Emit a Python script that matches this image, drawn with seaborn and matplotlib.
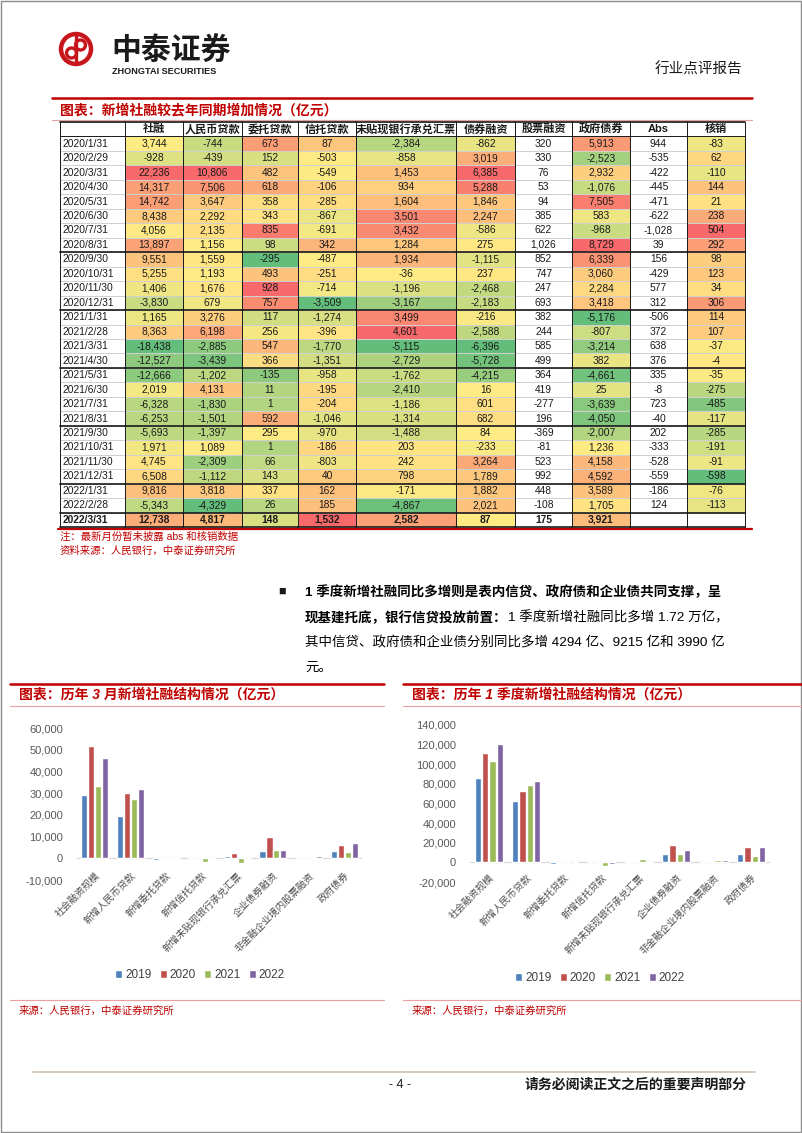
import numpy as np
import pandas as pd
import matplotlib
matplotlib.use('Agg')
import matplotlib.pyplot as plt
import seaborn as sns
from matplotlib.colors import LinearSegmentedColormap
from matplotlib.patches import Circle, Rectangle
from matplotlib.ticker import FuncFormatter

# ---------------- données du tableau (亿元) ----------------
dates = ['2020/1/31', '2020/2/29', '2020/3/31', '2020/4/30', '2020/5/31', '2020/6/30',
         '2020/7/31', '2020/8/31', '2020/9/30', '2020/10/31', '2020/11/30', '2020/12/31',
         '2021/1/31', '2021/2/28', '2021/3/31', '2021/4/30', '2021/5/31', '2021/6/30',
         '2021/7/31', '2021/8/31', '2021/9/30', '2021/10/31', '2021/11/30', '2021/12/31',
         '2022/1/31', '2022/2/28', '2022/3/31']
table_headers = ['社融', '人民币贷款', '委托贷款', '信托贷款', '未贴现银行承兑汇票',
                 '债券融资', '股票融资', '政府债券', 'Abs', '核销']
shehui = [3744, -928, 22236, 14317, 14742, 8438, 4056, 13897, 9551, 5255, 1406, -3830, 1165,
          8363, -18438, -12527, -12666, 2019, -6328, -6253, -5693, 1971, 4745, 6508, 9816, -5343, 12738]
rmb_loans = [-744, -439, 10806, 7506, 3647, 2292, 2135, 1156, 1559, 1193, 1676, 679, 3276,
             6198, -2885, -3439, -1202, 4131, -1830, -1501, -1397, 1089, -2309, -1112, 3818, -4329, 4817]
entrusted = [673, 152, 482, 618, 358, 343, 835, 98, -295, 493, 928, 757, 117, 256, 547, 366,
             -135, 11, 1, 592, 295, 1, 66, 143, 337, 26, 148]
trust = [87, -503, -549, -106, -285, -867, -691, 342, -487, -251, -714, -3509, -1274, -396,
         -1770, -1351, -958, -195, -204, -1046, -970, -186, -803, 40, 162, 185, 1532]
bills = [-2384, -858, 1453, 934, 1604, 3501, 3432, 1284, 1934, -36, -1196, -3167, 3499, 4601,
         -5115, -2729, -1762, -2410, -1186, -1314, -1488, 203, 242, 798, -171, -4867, 2582]
bonds = [-862, 3019, 6385, 5288, 1846, 2247, -586, 275, -1115, 237, -2468, -2183, -216, -2588,
         -6396, -5728, -4215, 16, 601, 682, 84, -233, 3264, 1789, 1882, 2021, 87]
equity = [320, 330, 76, 53, 94, 385, 622, 1026, 852, 747, 247, 693, 382, 244, 585, 499, 364,
          419, -277, 196, -369, -81, 523, 992, 448, -108, 175]
gov_bonds = [5913, -2523, 2932, -1076, 7505, 583, -968, 8729, 6339, 3060, 2284, 3418, -5176,
             -807, -3214, 382, -4661, 25, -3639, -4050, -2007, 1236, 4158, 4592, 3589, 1705, 3921]
abs_vals = [944, -535, -422, -445, -471, -622, -1028, 39, 156, -429, 577, 312, -506, 372, 638,
            376, 335, -8, 723, -40, 202, -333, -528, -559, -186, 124, None]
writeoff = [-83, 62, -110, 144, 21, 238, 504, 292, 98, 123, 34, 306, 114, 107, -37, -4, -35,
            -275, -485, -117, -285, -191, -91, -598, -76, -113, None]
table_cols = [shehui, rmb_loans, entrusted, trust, bills, bonds, equity, gov_bonds, abs_vals, writeoff]
colored = [True, True, True, True, True, True, False, True, False, True]

# ---------------- données des graphiques ----------------
categories = ['社会融资规模', '新增人民币贷款', '新增委托贷款', '新增信托贷款',
              '新增未贴现银行承兑汇票', '企业债券融资', '非金融企业境内股票融资', '政府债券']
years = ['2019', '2020', '2021', '2022']
mar_2019 = [29300, 19400, -600, 200, 1200, 3360, 200, 3200]
mar_2020 = [51600, 30100, -400, -100, 2600, 9770, 300, 6100]
mar_2021 = [33400, 27200, 100, -1700, -2300, 3660, 600, 2900]
mar_2022 = [46300, 32100, -100, -100, 300, 3800, 900, 6900]
q1_2019 = [86200, 63000, -2000, 300, 1700, 8900, 300, 8900]
q1_2020 = [111000, 72500, -800, 100, 200, 17700, 1000, 15700]
q1_2021 = [102900, 79000, 200, -3400, 3000, 8900, 2000, 6500]
q1_2022 = [120200, 83400, 300, -1500, -300, 12900, 2700, 16000]
year_colors = ['#4F81BD', '#C0504D', '#9BBB59', '#8064A2']

RED = '#C00000'
W, H = 802, 1133

sns.set_theme(style='white')
plt.rcParams['font.family'] = ['Liberation Sans', 'Noto Sans CJK SC', 'DejaVu Sans']
plt.rcParams['axes.unicode_minus'] = False

fig = plt.figure(figsize=(W / 100, H / 100), dpi=100)


def rect(x0, y0, w, h):
    """pixels (origine en haut à gauche) -> coordonnées figure"""
    return [x0 / W, 1 - (y0 + h) / H, w / W, h / H]


# fond de page en coordonnées pixels
bg = fig.add_axes([0, 0, 1, 1])
bg.set_xlim(0, W)
bg.set_ylim(H, 0)
bg.axis('off')
bg.add_patch(Rectangle((0.5, 0.5), W - 1.5, H - 1.5, fill=False, ec='#8c8c8c', lw=1))

# logo
bg.add_patch(Circle((76, 49), 15, fill=False, ec='#C8161D', lw=3.2))
bg.add_patch(Circle((71.5, 53), 5, fill=False, ec='#C8161D', lw=2.4))
bg.add_patch(Circle((80.5, 45), 5, fill=False, ec='#C8161D', lw=2.4))
bg.plot([76, 76], [36, 62], color='#C8161D', lw=2.4)
bg.text(111, 51, '中泰证券', fontsize=21.5, fontweight='bold', va='center', ha='left', color='#1a1a1a')
bg.text(112, 71, 'ZHONGTAI SECURITIES', fontsize=6.6, fontweight='bold', va='center', ha='left',
        color='#1a1a1a')
bg.text(742, 70, '行业点评报告', fontsize=10.5, ha='right', va='center', color='#1a1a1a')

# titre du tableau
bg.plot([52, 752], [98, 98], color=RED, lw=1.8)
bg.text(60, 110, '图表：新增社融较去年同期增加情况（亿元）', fontsize=10, color=RED,
        fontweight='bold', style='italic', va='center')
bg.plot([52, 752], [120, 120], color='#E8A0A0', lw=0.8)

# ---------------- tableau (heatmaps seaborn par colonne) ----------------
cmap = LinearSegmentedColormap.from_list(
    'rg', [(0, 'white'), (0.4999, 'white'), (0.5, '#63BE7B'), (0.75, '#FFEB84'), (1, '#F8696B')], N=1024)


def scale_col(vals):
    """échelle 3 couleurs type Excel : min -> 0, médiane -> 0.5, max -> 1"""
    arr = np.array([np.nan if v is None else v for v in vals], dtype=float)
    lo, mid, hi = np.nanmin(arr), np.nanmedian(arr), np.nanmax(arr)
    out = np.where(arr <= mid, 0.5 * (arr - lo) / (mid - lo), 0.5 + 0.5 * (arr - mid) / (hi - mid))
    return out


edges = [60, 125, 183, 242, 298, 356, 456, 515, 572, 630, 687, 745]
tab_top, tab_h = 122, 405
n_rows = len(dates) + 1
thick_rows = [9, 13, 17, 21, 25, 27]

for j in range(len(edges) - 1):
    ax = fig.add_axes(rect(edges[j], tab_top, edges[j + 1] - edges[j], tab_h))
    if j == 0:
        vals = np.full(n_rows, -1.0)
        annot = [''] + dates
    else:
        col = table_cols[j - 1]
        if colored[j - 1]:
            vals = np.concatenate([[-1.0], scale_col(col)])
            vals = np.where(np.isnan(vals), -1.0, vals)
        else:
            vals = np.full(n_rows, -1.0)
        annot = [table_headers[j - 1]] + ['' if v is None else f'{v:,}' for v in col]
    sns.heatmap(pd.DataFrame(vals), ax=ax, cmap=cmap, vmin=-1, vmax=1, cbar=False,
                annot=np.array(annot, dtype=object).reshape(-1, 1), fmt='',
                annot_kws={'fontsize': 7.4, 'color': '#1a1a1a'},
                linewidths=0.5, linecolor='#d0d0d0', xticklabels=False, yticklabels=False)
    for i, t in enumerate(ax.texts):
        if j == 0:
            t.set_ha('left')
            t.set_x(0.04)
        if i == 0:
            t.set_fontsize(8)
            t.set_fontweight('bold')
        if i == n_rows - 1:
            t.set_fontweight('bold')
    for xv in (0, 1):
        ax.axvline(xv, color='#1a1a1a', lw=0.7, clip_on=False)
    ax.axhline(0, color='#1a1a1a', lw=1.2, clip_on=False)
    ax.axhline(n_rows, color='#1a1a1a', lw=1.2, clip_on=False)
    ax.axhline(1, color='#1a1a1a', lw=0.7, clip_on=False)
    for r in thick_rows:
        ax.axhline(r, color='#1a1a1a', lw=1.2, clip_on=False)

bg.plot([58, 752], [528.5, 528.5], color=RED, lw=1.6)
bg.text(60, 537, '注：最新月份暂未披露 abs 和核销数据', fontsize=7.5, color=RED, va='center')
bg.text(60, 551, '资料来源：人民银行，中泰证券研究所', fontsize=7.5, color=RED, va='center')

# ---------------- paragraphe ----------------
bg.text(282, 592, '■', fontsize=9, va='center', ha='center', color='#1a1a1a')
bg.text(305, 592, '1 季度新增社融同比多增则是表内信贷、政府债和企业债共同支撑，呈',
        fontsize=9.7, fontweight='bold', va='center', color='#000000')
t2 = bg.text(305, 618, '现基建托底，银行信贷投放前置：', fontsize=9.7, fontweight='bold',
             va='center', color='#000000')
bg.annotate('1 季度新增社融同比多增 1.72 万亿，', xy=(1, 0.5), xycoords=t2, va='center',
            ha='left', fontsize=9.7, color='#000000')
bg.text(305, 643, '其中信贷、政府债和企业债分别同比多增 4294 亿、9215 亿和 3990 亿',
        fontsize=9.7, va='center', color='#000000')
bg.text(305, 668, '元。', fontsize=9.7, va='center', color='#000000')

# ---------------- graphiques en barres ----------------
panels = [
    dict(x0=10, x1=384, title='图表：历年 3 月新增社融结构情况（亿元）',
         ax_rect=(77, 728, 285, 152), ylim=(-10000, 60000), step=10000,
         series=[mar_2019, mar_2020, mar_2021, mar_2022], leg=(200, 975)),
    dict(x0=403, x1=802, title='图表：历年 1 季度新增社融结构情况（亿元）',
         ax_rect=(470, 725, 300, 157), ylim=(-20000, 140000), step=20000,
         series=[q1_2019, q1_2020, q1_2021, q1_2022], leg=(600, 978)),
]

for p in panels:
    bg.plot([p['x0'], p['x1']], [684, 684], color=RED, lw=1.8)
    bg.text(p['x0'] + 9, 695, p['title'], fontsize=10, color=RED, fontweight='bold',
            style='italic', va='center')
    bg.plot([p['x0'], p['x1']], [706, 706], color='#E8A0A0', lw=0.8)
    bg.plot([p['x0'], p['x1']], [1000, 1000], color='#E8A0A0', lw=0.8)
    bg.text(p['x0'] + 9, 1011, '来源：人民银行，中泰证券研究所', fontsize=7.5, color=RED, va='center')

    df = pd.DataFrame({
        'cat': np.tile(categories, len(years)),
        'year': np.repeat(years, len(categories)),
        'val': np.concatenate(p['series']),
    })
    ax = fig.add_axes(rect(*p['ax_rect']))
    sns.barplot(data=df, x='cat', y='val', hue='year', palette=year_colors, width=0.78, gap=0.12,
                ax=ax, saturation=1)
    handles, labels = ax.get_legend_handles_labels()
    ax.legend(handles, labels, loc='center', ncol=4, frameon=False, fontsize=8.5,
              bbox_to_anchor=(p['leg'][0] / W, 1 - p['leg'][1] / H), bbox_transform=fig.transFigure,
              handlelength=0.6, handleheight=0.6, handletextpad=0.25, columnspacing=0.7,
              labelcolor='#404040')
    ax.set_ylim(*p['ylim'])
    ax.set_yticks(np.arange(p['ylim'][0], p['ylim'][1] + 1, p['step']))
    ax.yaxis.set_major_formatter(FuncFormatter(lambda v, _: f'{v:,.0f}'))
    ax.set_xlabel('')
    ax.set_ylabel('')
    ax.axhline(0, color='#d9d9d9', lw=0.9, zorder=0)
    sns.despine(ax=ax, left=True, bottom=True)
    ax.tick_params(axis='y', labelsize=8, colors='#595959', length=0, pad=10)
    ax.tick_params(axis='x', labelsize=7, colors='#4d4d4d', length=0, pad=-7)
    plt.setp(ax.get_xticklabels(), rotation=45, ha='right', rotation_mode='anchor')
    ax.set_facecolor('none')

# ---------------- pied de page ----------------
bg.plot([33, 755], [1072, 1072], color='#cdbfb0', lw=1.2)
bg.text(400, 1085, '- 4 -', fontsize=9, ha='center', va='center', color='#1a1a1a')
bg.text(747, 1085, '请务必阅读正文之后的重要声明部分', fontsize=10, ha='right', va='center',
        color='#1a1a1a', fontweight='bold')

fig.savefig('out.png', dpi=100)
